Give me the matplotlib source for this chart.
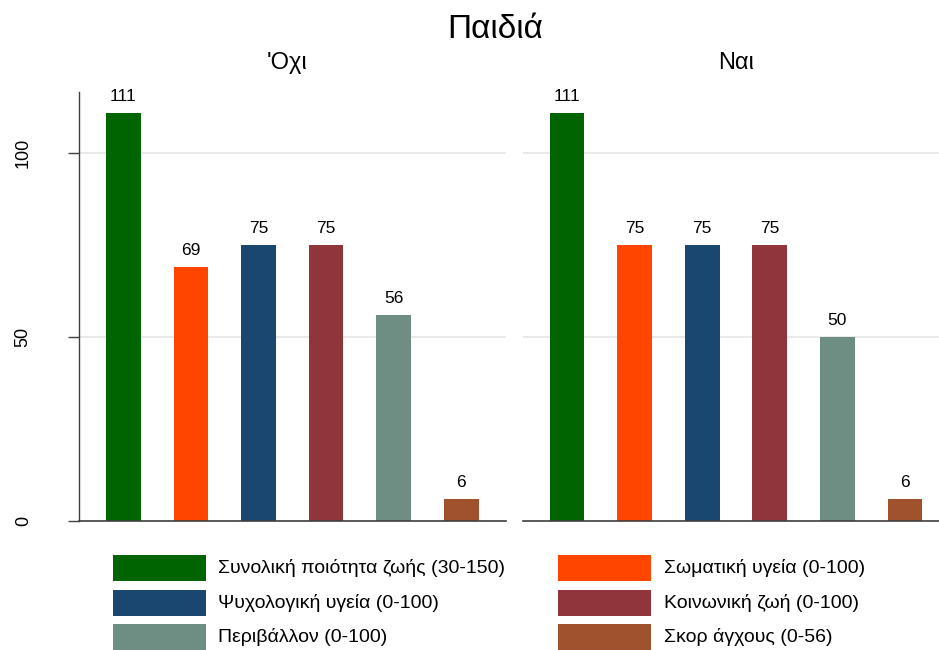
import matplotlib.pyplot as plt
from matplotlib.patches import Rectangle

plt.rcParams['font.family'] = ['Liberation Sans', 'DejaVu Sans']

# Children's quality-of-life scores, split by group
groups = ["'Οχι", "Ναι"]
measures = ['Συνολική ποιότητα ζωής (30-150)', 'Σωματική υγεία (0-100)',
            'Ψυχολογική υγεία (0-100)', 'Κοινωνική ζωή (0-100)',
            'Περιβάλλον (0-100)', 'Σκορ άγχους (0-56)']
values_no = [111, 69, 75, 75, 56, 6]
values_yes = [111, 75, 75, 75, 50, 6]
colors = ['#006400', '#FF4500', '#1A476F', '#90353B', '#6E8E84', '#A0522D']
yticks = [0, 50, 100]

W, H = 939, 650
fig = plt.figure(figsize=(W / 100, H / 100), dpi=100)

def px_box(x0, y0, x1, y1):
    return [x0 / W, 1 - y1 / H, (x1 - x0) / W, (y1 - y0) / H]

ax1 = fig.add_axes(px_box(79, 91.7, 505.6, 521))
ax2 = fig.add_axes(px_box(522.7, 91.7, 949.3, 521))

for ax, title, vals, tx in [(ax1, groups[0], values_no, 0.488),
                            (ax2, groups[1], values_yes, 0.5)]:
    x = list(range(len(vals)))
    bars = ax.bar(x, vals, width=0.514, color=colors, zorder=3)
    ax.bar_label(bars, labels=[str(v) for v in vals], padding=6.5, fontsize=12.5)
    ax.set_xlim(-0.656, 5.656)
    ax.set_ylim(0, 116.7)
    ax.set_xticks([])
    ax.set_yticks(yticks)
    ax.grid(axis='y', color='#e3e3e3', lw=1.1, zorder=0)
    for s in ['top', 'right']:
        ax.spines[s].set_visible(False)
    ax.spines['bottom'].set_color('#404040')
    ax.spines['bottom'].set_linewidth(1.2)
    ax.spines['bottom'].set_zorder(4)
    ax.set_title(title, fontsize=17, pad=16, x=tx)

ax1.spines['left'].set_color('#404040')
ax1.spines['left'].set_linewidth(1.0)
ax1.tick_params(axis='y', length=8, width=1.0, color='#404040', pad=26, labelsize=13)
for lab in ax1.get_yticklabels():
    lab.set_rotation(90)
    lab.set_va('center')
ax2.spines['left'].set_visible(False)
ax2.tick_params(axis='y', length=0, labelleft=False)

fig.text(495 / W, 1 - 30 / H, 'Παιδιά', ha='center', va='center', fontsize=24)

# Legend in two columns, row-major order
col_x = [112.7, 558.3]
row_y = [568, 602.5, 637]
for i, (name, c) in enumerate(zip(measures, colors)):
    cx = col_x[i % 2]
    cy = row_y[i // 2]
    fig.patches.append(Rectangle((cx / W, 1 - (cy + 13) / H), 93 / W, 26 / H,
                                 transform=fig.transFigure, facecolor=c,
                                 edgecolor='none'))
    fig.text((cx + 105.5) / W, 1 - cy / H, name, ha='left', va='center', fontsize=14)

fig.savefig('out.png', dpi=100)
